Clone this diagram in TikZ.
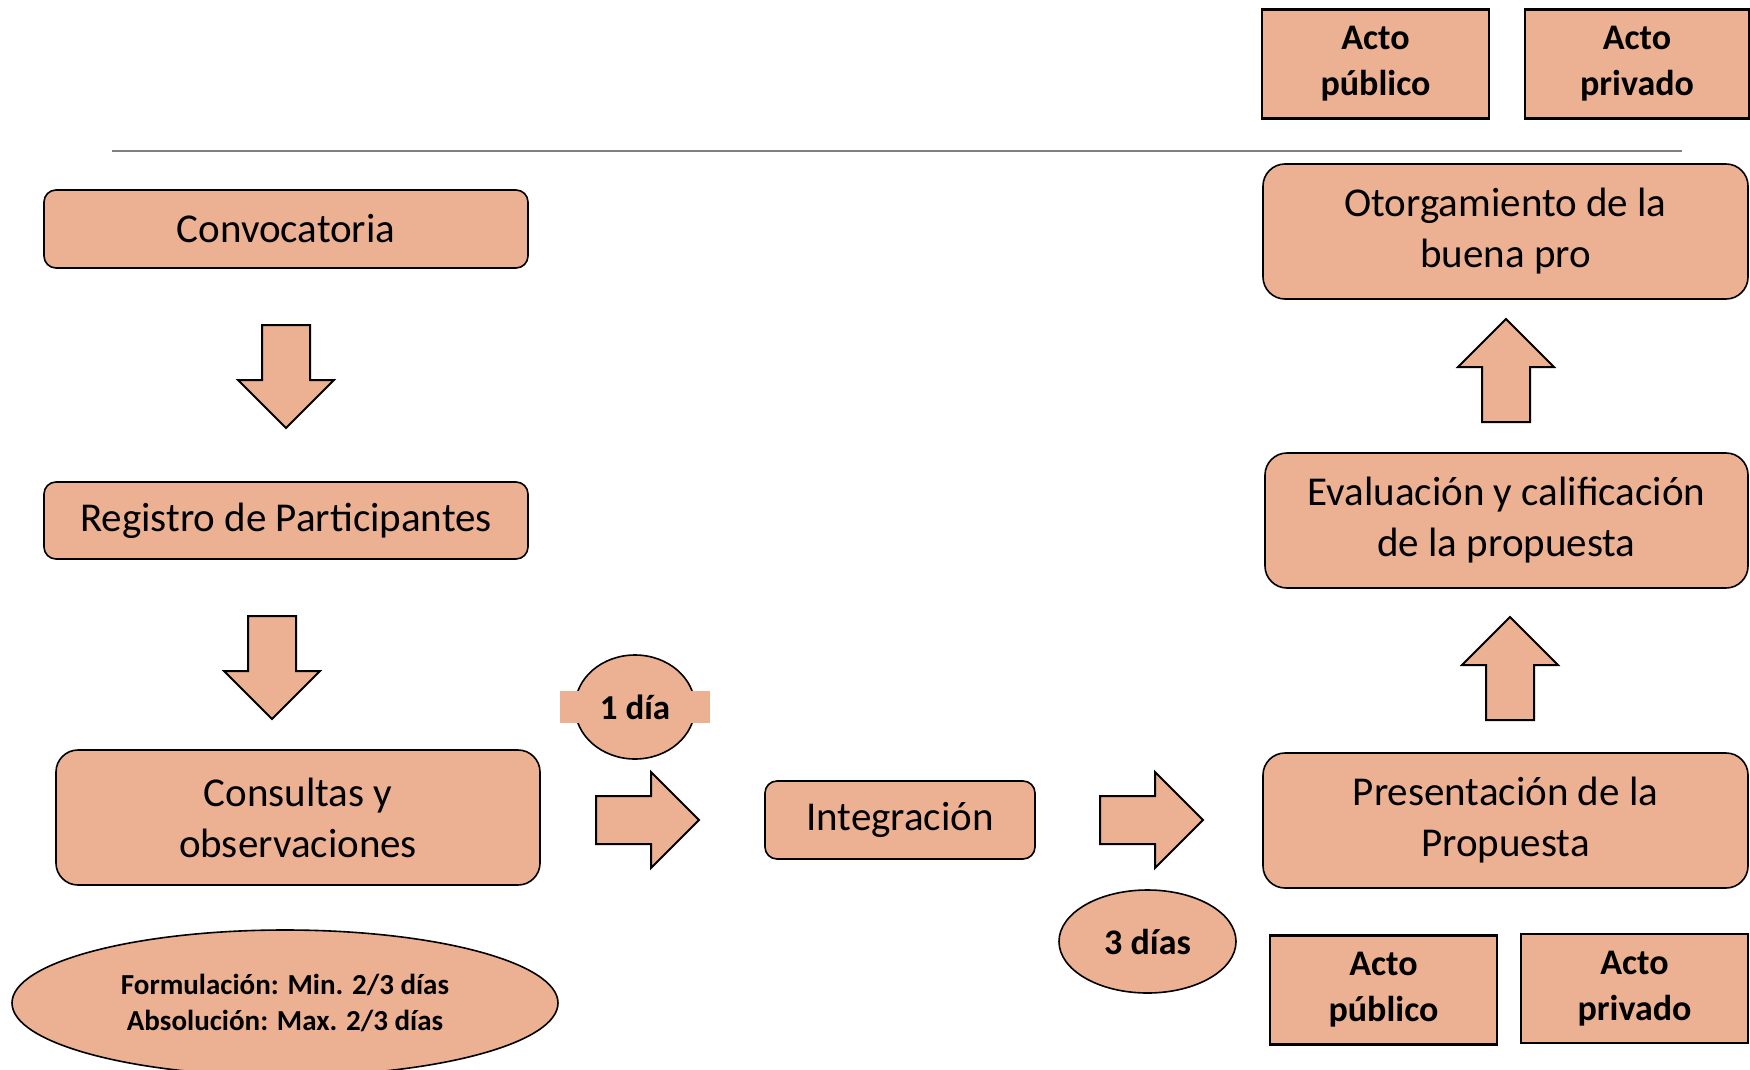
\documentclass[tikz,border=0pt]{standalone}
\usepackage{fontspec}
\setmainfont{Carlito}
\usetikzlibrary{shapes.geometric,shapes.arrows}
\definecolor{salmon}{RGB}{235,177,146}

\begin{document}
\begin{tikzpicture}[x=1pt, y=-1pt,
	caja/.style={draw, fill=salmon, line width=1.6pt, rounded corners=12pt, align=center, inner sep=0pt, font=\fontsize{41}{51}\selectfont},
	cajag/.style={caja, rounded corners=22pt, minimum width=485pt, minimum height=135pt},
	acto/.style={draw, fill=salmon, line width=2.2pt, align=center, inner sep=0pt, minimum width=227pt, minimum height=109pt, font=\bfseries\fontsize{36}{46}\selectfont},
	flecha/.style={single arrow, draw, fill=salmon, line width=2pt, inner sep=0pt, text height=46pt, text depth=0pt, minimum height=103pt, single arrow head extend=24pt, anchor=tail},
	plazo/.style={ellipse, draw, fill=salmon, line width=1.6pt, inner sep=0pt, align=center, font=\bfseries\fontsize{36}{44}\selectfont}]
			\useasboundingbox (0,0) rectangle (1750,1070);
			
			% actos de arriba
			\node[acto] (pubA) at (1375.5,64) {Acto\\público};
			\node[acto, minimum width=224pt] (privA) at (1637,64) {Acto\\privado};
			\coordinate (l1) at (112,151);
			\coordinate (l2) at (1682,151);
			\draw[gray, line width=1.5pt] (l1) -- (l2);
			
			% columna izquierda
			\node[caja, minimum width=484pt, minimum height=78pt] (conv) at (286,229) {Convocatoria};
			\node[flecha, rotate=-90] (f1) at (286,324) {};
			\node[caja, minimum width=484pt, minimum height=77pt] (reg) at (286,520.5) {Registro de Participantes};
			\node[flecha, rotate=-90] (f2) at (272,615) {};
			\node[cajag, minimum width=484pt] (cons) at (298,817.5) {Consultas y\\observaciones};
			\node[plazo, minimum width=546pt, minimum height=146pt, font=\bfseries\fontsize{29}{36}\selectfont] (form) at (285,1003) {Formulación: Min. 2/3 días\\Absolución: Max. 2/3 días};
			
			% centro
			\node[plazo, minimum width=120pt, minimum height=104pt] (d1) at (635,707) {};
			\node[fill=salmon, inner sep=0pt, minimum width=150pt, minimum height=32pt, font=\bfseries\fontsize{35}{42}\selectfont] (d1t) at (d1.center) {1 día};
			\node[flecha] (f3) at (595,820) {};
			\node[caja, minimum width=270pt, minimum height=78pt] (integ) at (900,820) {Integración};
			\node[flecha] (f4) at (1099,820) {};
			\node[plazo, minimum width=177pt, minimum height=103pt] (d3) at (1147.5,941.5) {3 días};
			
			% columna derecha
			\node[cajag] (pres) at (1505.5,820.5) {Presentación de la\\Propuesta};
			\node[flecha, rotate=90] (f5) at (1510,721) {};
			\node[cajag, minimum width=483pt] (eval) at (1506.5,520.5) {Evaluación y calificación\\de la propuesta};
			\node[flecha, rotate=90] (f6) at (1506,423) {};
			\node[cajag] (otorg) at (1505.5,231.5) {Otorgamiento de la\\buena pro};
			
			% actos de abajo
			\node[acto] (pubB) at (1383.5,990) {Acto\\público};
			\node[acto] (privB) at (1634.5,988.5) {Acto\\privado};
\end{tikzpicture}
\end{document}
